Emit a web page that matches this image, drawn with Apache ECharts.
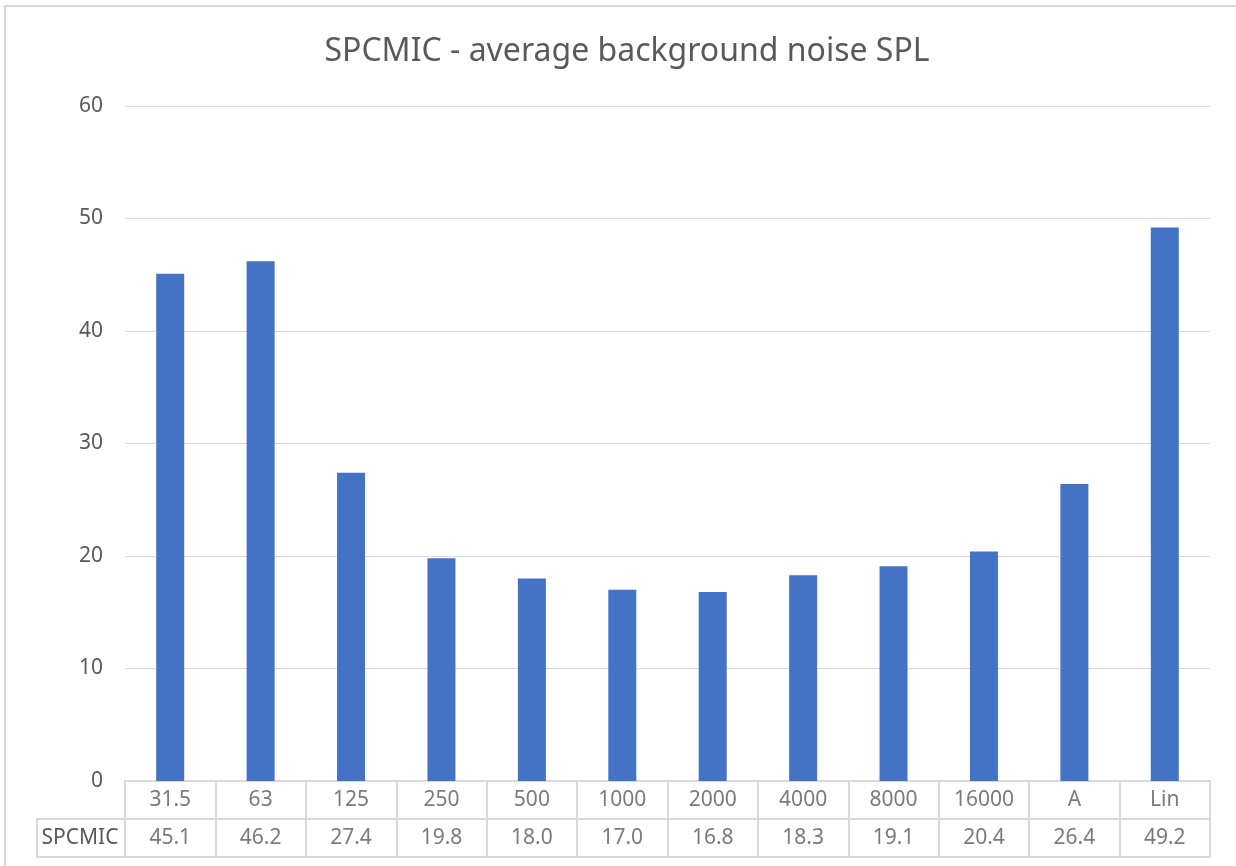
<!DOCTYPE html>
<html>
<head>
<meta charset="utf-8">
<script src="https://cdn.jsdelivr.net/npm/echarts@6/dist/echarts.min.js"></script>
<style>
html,body{margin:0;padding:0;background:#fff;}
#main{width:1236px;height:866px;}
</style>
</head>
<body>
<div id="main"></div>
<script>
const titleText = 'SPCMIC - average background noise SPL';
const seriesName = 'SPCMIC';
const categories = ['31.5','63','125','250','500','1000','2000','4000','8000','16000','A','Lin'];
const values = [45.1,46.2,27.4,19.8,18.0,17.0,16.8,18.3,19.1,20.4,26.4,49.2];
const yTicks = {min:0, max:60, interval:10};

const FONT = '"Noto Sans", "Open Sans", sans-serif';
const TXT = '#595959';
const GRID = '#d9d9d9';

const tableLabels = [];
categories.forEach((c,i)=>{
  tableLabels.push({value:[i,1.5], text:c});
  tableLabels.push({value:[i,0.5], text:values[i].toFixed(1)});
});

const chart = echarts.init(document.getElementById('main'));
chart.setOption({
  backgroundColor:'#fff',
  animation:false,
  title:{text:titleText,left:622,textAlign:'center',top:31,textStyle:{fontFamily:FONT,fontSize:32,fontWeight:'normal',color:TXT}},
  grid:[
    {left:125,right:26,top:106,bottom:85},
    {left:125,right:26,top:781,height:76}
  ],
  xAxis:[
    {type:'category',data:categories,gridIndex:0,axisLine:{show:false},axisTick:{show:false},axisLabel:{show:false}},
    {type:'category',data:categories,gridIndex:1,axisLine:{show:false},axisTick:{show:false},axisLabel:{show:false},
     splitLine:{show:true,lineStyle:{color:GRID,width:2}}}
  ],
  yAxis:[
    {type:'value',gridIndex:0,min:yTicks.min,max:yTicks.max,interval:yTicks.interval,
     axisLabel:{fontFamily:FONT,fontSize:21,color:TXT,margin:22},
     splitLine:{lineStyle:{color:GRID,width:1}},axisLine:{show:false},axisTick:{show:false}},
    {type:'value',gridIndex:1,min:0,max:2,interval:1,axisLabel:{show:false},
     splitLine:{lineStyle:{color:GRID,width:2}},axisLine:{show:true,lineStyle:{color:GRID,width:2}},axisTick:{show:false}},
    {type:'value',gridIndex:1,position:'right',min:0,max:2,interval:1,axisLabel:{show:false},
     splitLine:{show:false},axisLine:{show:true,lineStyle:{color:GRID,width:2}},axisTick:{show:false}}
  ],
  series:[
    {type:'bar',name:seriesName,data:values,xAxisIndex:0,yAxisIndex:0,barWidth:28,itemStyle:{color:'#4472C4'}},
    {type:'scatter',xAxisIndex:1,yAxisIndex:1,symbolSize:0,silent:true,
     data:tableLabels.map(d=>({value:d.value,label:{formatter:d.text}})),
     label:{show:true,position:'inside',fontFamily:FONT,fontSize:21,color:TXT}}
  ],
  graphic:[
    {type:'rect',shape:{x:5,y:6,width:1300,height:900},style:{fill:'none',stroke:GRID,lineWidth:2},silent:true},
    {type:'polyline',shape:{points:[[125,819],[37,819],[37,857],[125,857]]},style:{fill:'none',stroke:GRID,lineWidth:2}},
    {type:'text',x:80,y:838,style:{text:seriesName,fontFamily:FONT,fontSize:21,fill:TXT,textAlign:'center',textVerticalAlign:'middle'}}
  ]
});
</script>
</body>
</html>
